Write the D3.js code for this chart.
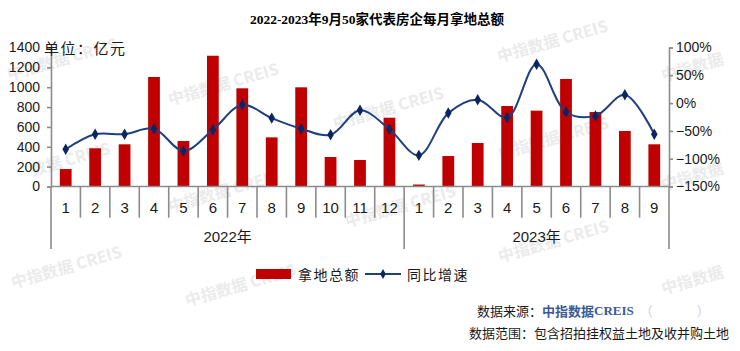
<!DOCTYPE html>
<html><head><meta charset="utf-8">
<script src="https://cdn.jsdelivr.net/npm/d3@7"></script>
<style>
html,body{margin:0;padding:0;background:#fff;}
svg{display:block;}
</style></head>
<body>
<svg id="chart" width="740" height="351"></svg>
<script>
// ---- data ----
const years = ["2022年", "2023年"];
const months2022 = ["1","2","3","4","5","6","7","8","9","10","11","12"];
const months2023 = ["1","2","3","4","5","6","7","8","9"];
const amount2022 = [176, 385, 425, 1103, 458, 1317, 989, 495, 999, 297, 267, 693];
const amount2023 = [20, 307, 438, 811, 764, 1083, 750, 559, 425];
const yoy2022 = [-83, -56, -56, -46, -86, -48, -3, -27, -46, -57, -13, -47];
const yoy2023 = [-94, -18, 6, -26, 70, -16, -23, 15, -56];
const leftTicks = [0, 200, 400, 600, 800, 1000, 1200, 1400];
const rightTicks = [-150, -100, -50, 0, 50, 100];
const titleText = "2022-2023年9月50家代表房企每月拿地总额";
const unitText = "单位：亿元";
const seriesNames = ["拿地总额", "同比增速"];

// ---- build table ----
const data = [];
months2022.forEach((m, i) => data.push({key: "2022-" + m, month: m, year: 0, amount: amount2022[i], yoy: yoy2022[i]}));
months2023.forEach((m, i) => data.push({key: "2023-" + m, month: m, year: 1, amount: amount2023[i], yoy: yoy2023[i]}));

const svg = d3.select("#chart");
const L = 51, R = 669, T = 47.5, B = 186.5;
const axisColor = "#8c8c8c";
const barColor = "#c00000";
const lineColor = "#1f3f7f";
const markColor = "#0b2563";
const sansCJK = "'Liberation Sans', Arial, 'Noto Sans CJK SC', sans-serif";

// ---- watermarks (decoration) ----
const wmSpots = [
  [62,58,"中指数据 CREIS"],[223,83,"中指数据 CREIS"],[388,107,"中指数据 CREIS"],[552,40,"中指数据 CREIS"],
  [692,66,"中指数据"],[70,158,"数据 CREIS"],[223,190,"中指数据 CREIS"],[400,205,"中指数据 CREIS"],
  [553,137,"中指数据 CREIS"],[692,175,"中指数据"],[553,240,"中指数据 CREIS"],[66,266,"中指数据 CREIS"],
  [240,284,"中指数据 CREIS"],[692,279,"中指数据"]
];
const wm = svg.append("g").attr("fill", "#ebebeb").style("font-family", "'Noto Sans CJK SC', sans-serif").style("font-size", "16px").style("font-weight", "bold");
wmSpots.forEach(([px, py, t]) => {
  wm.append("text").attr("transform", `translate(${px},${py}) rotate(-16)`).attr("text-anchor", "middle").attr("dominant-baseline", "central").text(t);
});

// ---- scales ----
const x = d3.scaleBand().domain(data.map(d => d.key)).range([L, R]).padding(0);
const y = d3.scaleLinear().domain([0, 1400]).range([B, T]);
const y2 = d3.scaleLinear().domain([-150, 100]).range([B, T]);

// ---- bars ----
const bw = x.bandwidth() * 0.4;
svg.append("g").selectAll("rect").data(data).join("rect")
  .attr("x", d => x(d.key) + x.bandwidth() / 2 - bw / 2)
  .attr("y", d => y(d.amount))
  .attr("width", bw)
  .attr("height", d => y(0) - y(d.amount))
  .attr("fill", barColor);

// ---- axes ----
const gl = svg.append("g").attr("transform", `translate(${L},0)`)
  .call(d3.axisLeft(y).tickValues(leftTicks).tickSize(4).tickPadding(7).tickFormat(d3.format("d")));
const gr = svg.append("g").attr("transform", `translate(${R},0)`)
  .call(d3.axisRight(y2).tickValues(rightTicks).tickSize(4).tickPadding(3).tickFormat(d => (d < 0 ? "\u2212" + Math.abs(d) : d) + "%"));
[gl, gr].forEach(g => {
  g.select(".domain").attr("stroke", axisColor).attr("stroke-width", 1.6);
  g.selectAll(".tick line").attr("stroke", axisColor).attr("stroke-width", 1.6);
  g.selectAll(".tick text").attr("fill", "#1a1a1a").style("font-family", sansCJK).style("font-size", "14px");
});

// bottom axis line
const xa = svg.append("g");
xa.append("line").attr("x1", L).attr("x2", R).attr("y1", B).attr("y2", B).attr("stroke", axisColor).attr("stroke-width", 1.6);
// month separators
data.forEach((d, i) => {
  if (i === 0) return;
  const isYearBreak = d.year !== data[i - 1].year;
  xa.append("line").attr("x1", x(d.key)).attr("x2", x(d.key)).attr("y1", B).attr("y2", isYearBreak ? 249 : 217.7)
    .attr("stroke", axisColor).attr("stroke-width", 1.6);
});
[L, R].forEach(px => xa.append("line").attr("x1", px).attr("x2", px).attr("y1", B).attr("y2", 249).attr("stroke", axisColor).attr("stroke-width", 1.6));
// month labels
xa.selectAll("text.m").data(data).join("text").attr("class", "m")
  .attr("x", d => x(d.key) + x.bandwidth() / 2).attr("y", 207)
  .attr("text-anchor", "middle").attr("dominant-baseline", "central")
  .style("font-family", sansCJK).style("font-size", "15px").attr("fill", "#1a1a1a")
  .text(d => d.month);
// year labels
years.forEach((yr, yi) => {
  const items = data.filter(d => d.year === yi);
  const x0 = x(items[0].key), x1 = x(items[items.length - 1].key) + x.bandwidth();
  xa.append("text").attr("x", (x0 + x1) / 2).attr("y", 236).attr("text-anchor", "middle").attr("dominant-baseline", "central")
    .style("font-family", sansCJK).style("font-size", "15px").attr("fill", "#1a1a1a").text(yr);
});

// ---- line ----
const line = d3.line().x(d => x(d.key) + x.bandwidth() / 2).y(d => y2(d.yoy)).curve(d3.curveCatmullRom.alpha(0.5));
svg.append("path").datum(data).attr("d", line).attr("fill", "none").attr("stroke", lineColor).attr("stroke-width", 2);
const diamond = d3.symbol().type(d3.symbolDiamond).size(38);
svg.append("g").selectAll("path").data(data).join("path")
  .attr("transform", d => `translate(${x(d.key) + x.bandwidth() / 2},${y2(d.yoy)})`)
  .attr("d", diamond).attr("fill", markColor);

// ---- title & unit ----
svg.append("text").attr("x", 377).attr("y", 19).attr("text-anchor", "middle").attr("dominant-baseline", "central")
  .style("font-family", "'Liberation Serif', 'Noto Sans CJK SC', serif").style("font-size", "13.5px").style("font-weight", "bold")
  .attr("fill", "#000").text(titleText);
svg.append("text").attr("x", 44).attr("y", 47).attr("dominant-baseline", "central")
  .style("font-family", "'Noto Sans CJK SC', sans-serif").style("font-size", "15px").style("letter-spacing", "1.5px")
  .attr("fill", "#1a1a1a").text(unitText);

// ---- legend ----
const lg = svg.append("g");
lg.append("rect").attr("x", 256).attr("y", 269).attr("width", 35).attr("height", 10).attr("fill", barColor);
lg.append("text").attr("x", 298).attr("y", 274).attr("dominant-baseline", "central")
  .style("font-family", "'Noto Sans CJK SC', sans-serif").style("font-size", "14px").style("letter-spacing", "1.5px").attr("fill", "#1a1a1a").text(seriesNames[0]);
lg.append("line").attr("x1", 365).attr("x2", 401).attr("y1", 274).attr("y2", 274).attr("stroke", lineColor).attr("stroke-width", 2);
lg.append("path").attr("transform", "translate(383,274)").attr("d", d3.symbol().type(d3.symbolDiamond).size(28)).attr("fill", markColor);
lg.append("text").attr("x", 407).attr("y", 274).attr("dominant-baseline", "central")
  .style("font-family", "'Noto Sans CJK SC', sans-serif").style("font-size", "14px").style("letter-spacing", "1.5px").attr("fill", "#1a1a1a").text(seriesNames[1]);

// ---- source notes ----
const s1 = svg.append("text").attr("x", 477).attr("y", 310).attr("dominant-baseline", "central")
  .style("font-family", "'Noto Sans CJK SC', sans-serif").style("font-size", "13px").attr("fill", "#1a1a1a");
s1.append("tspan").text("数据来源：");
s1.append("tspan").attr("fill", "#3d5a98").style("font-weight", "bold").text("中指数据");
s1.append("tspan").attr("fill", "#3d5a98").style("font-weight", "bold").style("font-family", "'Liberation Serif', serif").text("CREIS");
s1.append("tspan").attr("fill", "#d0d0d0").attr("dx", 6).text("（");
s1.append("tspan").attr("fill", "#d0d0d0").attr("dx", 44).text("）");
svg.append("text").attr("x", 729).attr("y", 332.5).attr("text-anchor", "end").attr("dominant-baseline", "central")
  .style("font-family", "'Noto Sans CJK SC', sans-serif").style("font-size", "13px").attr("fill", "#1a1a1a")
  .text("数据范围：包含招拍挂权益土地及收并购土地");
</script>
</body></html>
